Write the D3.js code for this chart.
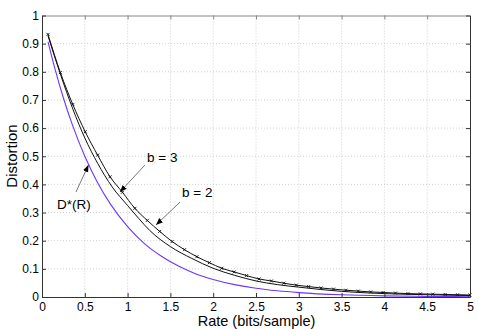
<!DOCTYPE html>
<html><head><meta charset="utf-8">
<script src="https://cdn.jsdelivr.net/npm/d3@7"></script>
<style>
html,body{margin:0;padding:0;background:#fff;}
text{font-family:"Liberation Sans",Arial,Helvetica,sans-serif;}
</style></head>
<body><svg id="c" width="478" height="329"></svg>
<script>
// Data
const xTicks = [0,0.5,1,1.5,2,2.5,3,3.5,4,4.5,5];
const yTicks = [0,0.1,0.2,0.3,0.4,0.5,0.6,0.7,0.8,0.9,1];
const xTickLabels = ["0","0.5","1","1.5","2","2.5","3","3.5","4","4.5","5"];
const yTickLabels = ["0","0.1","0.2","0.3","0.4","0.5","0.6","0.7","0.8","0.9","1"];

// D*(R) (blue)
const rateDstar = [0.07,0.15,0.25,0.35,0.5,0.65,0.8,1.0,1.2,1.4,1.6,1.8,2.0,2.25,2.5,2.75,3.0,3.5,4.0,4.5,5.0];
const distDstar = [0.907,0.812,0.707,0.616,0.5,0.406,0.330,0.25,0.189,0.144,0.109,0.082,0.0625,0.044,0.031,0.022,0.0156,0.0078,0.0039,0.002,0.001];

// b = 3 (lower black, no markers)
const rateB3 = [0.07,0.22,0.36,0.5,0.65,0.82,1.0,1.13,1.26,1.5,1.75,2.0,2.25,2.5,2.75,3.0,3.5,4.0,4.5,5.0];
const distB3 = [0.928,0.787,0.668,0.565,0.475,0.391,0.325,0.279,0.236,0.179,0.137,0.102,0.077,0.057,0.044,0.035,0.020,0.012,0.008,0.005];

// b = 2 (upper black, with markers)
const rateB2 = [0.07,0.215,0.36,0.505,0.65,0.795,0.94,1.085,1.23,1.375,1.52,1.665,1.81,1.955,2.1,2.245,2.39,2.535,2.68,2.825,2.97,3.115,3.26,3.405,3.55,3.695,3.84,3.985,4.13,4.275,4.42,4.565,4.71,4.855,5.0];
const distB2 = [0.933,0.797,0.684,0.587,0.504,0.427,0.372,0.315,0.272,0.233,0.197,0.168,0.143,0.122,0.102,0.089,0.076,0.064,0.057,0.049,0.042,0.037,0.032,0.028,0.024,0.021,0.018,0.016,0.014,0.012,0.011,0.010,0.009,0.008,0.007];

// Annotations (text anchor, arrow tail, arrow tip) in data units
const annLabels = ["b = 3","b = 2","D*(R)"];
const annText = [[1.227,0.480],[1.636,0.355],[0.175,0.311]];
const annTail = [[1.203,0.469],[1.612,0.337],[0.397,0.373]];
const annTip  = [[0.911,0.373],[1.332,0.256],[0.543,0.469]];

const svg = d3.select("#c");
const L=42, R=470, T=15.5, B=297;
const x = d3.scaleLinear().domain([0,5]).range([L,R]);
const y = d3.scaleLinear().domain([0,1]).range([B,T]);

// grid
const g = svg.append("g");
g.selectAll(".gx").data(xTicks.slice(1,-1)).join("line")
  .attr("x1",d=>x(d)).attr("x2",d=>x(d)).attr("y1",T).attr("y2",B)
  .attr("stroke","#c4c4c4").attr("stroke-width",0.8).attr("stroke-dasharray","1,2");
g.selectAll(".gy").data(yTicks.slice(1,-1)).join("line")
  .attr("y1",d=>y(d)).attr("y2",d=>y(d)).attr("x1",L).attr("x2",R)
  .attr("stroke","#c4c4c4").attr("stroke-width",0.8).attr("stroke-dasharray","1,2");

// curves
const line = d3.line().x(d=>x(d[0])).y(d=>y(d[1])).curve(d3.curveMonotoneX);
svg.append("path").datum(d3.zip(rateDstar,distDstar)).attr("d",line)
  .attr("fill","none").attr("stroke","#7033ff").attr("stroke-width",1.1);
svg.append("path").datum(d3.zip(rateB3,distB3)).attr("d",line)
  .attr("fill","none").attr("stroke","#111").attr("stroke-width",1);
svg.append("path").datum(d3.zip(rateB2,distB2)).attr("d",line)
  .attr("fill","none").attr("stroke","#111").attr("stroke-width",1);
const ms=1.5;
svg.append("g").selectAll("path").data(d3.zip(rateB2,distB2)).join("path")
  .attr("d",d=>{const px=x(d[0]),py=y(d[1]);return `M${px-ms},${py-ms}L${px+ms},${py+ms}M${px-ms},${py+ms}L${px+ms},${py-ms}`;})
  .attr("stroke","#111").attr("stroke-width",0.9).attr("fill","none");

// axes box
const axColor="#333";
const xAxisB = d3.axisBottom(x).tickValues(xTicks).tickFormat((d,i)=>xTickLabels[i]).tickSizeInner(-4).tickSizeOuter(0).tickPadding(5);
const xAxisT = d3.axisTop(x).tickValues(xTicks).tickFormat("").tickSizeInner(-4).tickSizeOuter(0);
const yAxisL = d3.axisLeft(y).tickValues(yTicks).tickFormat((d,i)=>yTickLabels[i]).tickSizeInner(-4).tickSizeOuter(0).tickPadding(3);
const yAxisR = d3.axisRight(y).tickValues(yTicks).tickFormat("").tickSizeInner(-4).tickSizeOuter(0);
function style(sel,col){
  sel.select(".domain").attr("stroke",col).attr("stroke-width",1);
  sel.selectAll(".tick line").attr("stroke",col);
  sel.selectAll(".tick text").attr("fill","#000").style("font-size","12px").style("font-family","'Liberation Sans',Arial,sans-serif");
}
style(svg.append("g").attr("transform",`translate(0,${B})`).call(xAxisB),axColor);
style(svg.append("g").attr("transform",`translate(0,${T})`).call(xAxisT),"#888");
style(svg.append("g").attr("transform",`translate(${L},0)`).call(yAxisL),axColor);
style(svg.append("g").attr("transform",`translate(${R},0)`).call(yAxisR),axColor);

// axis labels
svg.append("text").attr("x",256.5).attr("y",325.5).attr("text-anchor","middle")
  .style("font-size","14.5px").text("Rate (bits/sample)");
svg.append("text").attr("transform","translate(17,156) rotate(-90)").attr("text-anchor","middle")
  .style("font-size","15px").text("Distortion");

// annotations
svg.append("defs").append("marker").attr("id","ah").attr("viewBox","0 0 10 10")
  .attr("refX",10).attr("refY",5).attr("markerWidth",7).attr("markerHeight",7)
  .attr("markerUnits","userSpaceOnUse").attr("orient","auto")
  .append("path").attr("d","M0,1L10,5L0,9Z").attr("fill","#000");
annLabels.forEach((lab,i)=>{
  svg.append("line").attr("x1",x(annTail[i][0])).attr("y1",y(annTail[i][1]))
    .attr("x2",x(annTip[i][0])).attr("y2",y(annTip[i][1]))
    .attr("stroke","#555").attr("stroke-width",0.8).attr("marker-end","url(#ah)");
  svg.append("text").attr("x",x(annText[i][0])).attr("y",y(annText[i][1]))
    .style("font-size","13.5px").text(lab);
});
</script></body></html>
